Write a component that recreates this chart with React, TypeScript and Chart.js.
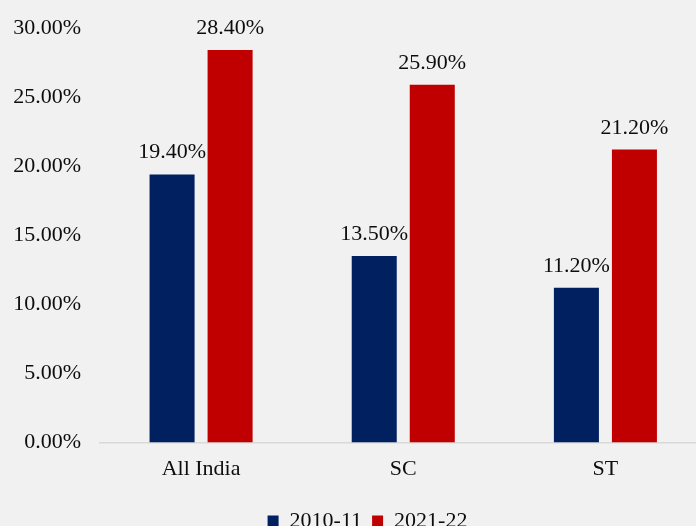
import React, { useEffect, useRef } from "react";
import { Chart, registerables } from "chart.js";

Chart.register(...registerables);

const categories = ["All India", "SC", "ST"];
const series2010 = [19.4, 13.5, 11.2];
const series2021 = [28.4, 25.9, 21.2];
const seriesNames = ["2010-11", "2021-22"];
const yTicks = { min: 0, max: 30, step: 5 };

const FONT = "'Liberation Serif', 'Times New Roman', serif";
const BLUE = "#002060";
const RED = "#C00000";

const valueLabels = {
  id: "valueLabels",
  afterDatasetsDraw(chart: any) {
    const ctx = chart.ctx;
    ctx.save();
    ctx.font = `22px ${FONT}`;
    ctx.fillStyle = "#0d0d0d";
    ctx.textAlign = "center";
    ctx.textBaseline = "alphabetic";
    chart.data.datasets.forEach((ds: any, i: number) => {
      const meta = chart.getDatasetMeta(i);
      meta.data.forEach((bar: any, j: number) => {
        const v = ds.data[j] as number;
        ctx.fillText(v.toFixed(2) + "%", bar.x, bar.y - 16);
      });
    });
    ctx.restore();
  },
};

export default function App() {
  const ref = useRef<HTMLCanvasElement | null>(null);
  useEffect(() => {
    if (!ref.current) return;
    const chart = new Chart(ref.current, {
      type: "bar",
      data: {
        labels: categories,
        datasets: [
          {
            label: seriesNames[0],
            data: series2010,
            backgroundColor: BLUE,
            categoryPercentage: 0.574,
            barPercentage: 0.776,
          },
          {
            label: seriesNames[1],
            data: series2021,
            backgroundColor: RED,
            categoryPercentage: 0.574,
            barPercentage: 0.776,
          },
        ],
      },
      options: {
        responsive: false,
        animation: false,
        devicePixelRatio: 1,
        layout: { padding: { top: 28, left: 0, right: 0, bottom: 0 } },
        plugins: {
          legend: {
            position: "bottom",
            labels: {
              boxWidth: 11,
              boxHeight: 11,
              color: "#0d0d0d",
              font: { family: FONT, size: 22 },
              padding: 10,
            },
          },
          tooltip: { enabled: false },
        },
        scales: {
          x: {
            grid: { display: false, drawTicks: false },
            border: { display: true, color: "#d9d9d9", width: 1.5 },
            ticks: {
              color: "#0d0d0d",
              font: { family: FONT, size: 22 },
              padding: 14,
            },
            afterFit(scale: any) {
              scale.height = 57.5;
            },
          },
          y: {
            min: yTicks.min,
            max: yTicks.max,
            grid: { display: false, drawTicks: true, tickLength: 19 },
            border: { display: false },
            ticks: {
              stepSize: yTicks.step,
              color: "#0d0d0d",
              font: { family: FONT, size: 22 },
              padding: 0,
              callback: (v: any) => Number(v).toFixed(2) + "%",
            },
            afterFit(scale: any) {
              scale.width = 100;
            },
          },
          yRightSpace: {
            type: "linear",
            position: "right",
            display: true,
            grid: { display: false, drawTicks: false },
            border: { display: false },
            ticks: { display: false },
            afterFit(scale: any) {
              scale.width = 28.5;
            },
          },
        },
      },
      plugins: [valueLabels],
    });
    return () => chart.destroy();
  }, []);

  return (
    <div
      style={{
        position: "fixed",
        left: 0,
        top: 0,
        width: 696,
        height: 526,
        overflow: "hidden",
        background: "#f1f1f2",
      }}
    >
      <canvas
        ref={ref}
        width={735}
        height={542}
        style={{ display: "block", width: 735, height: 542 }}
      />
    </div>
  );
}
